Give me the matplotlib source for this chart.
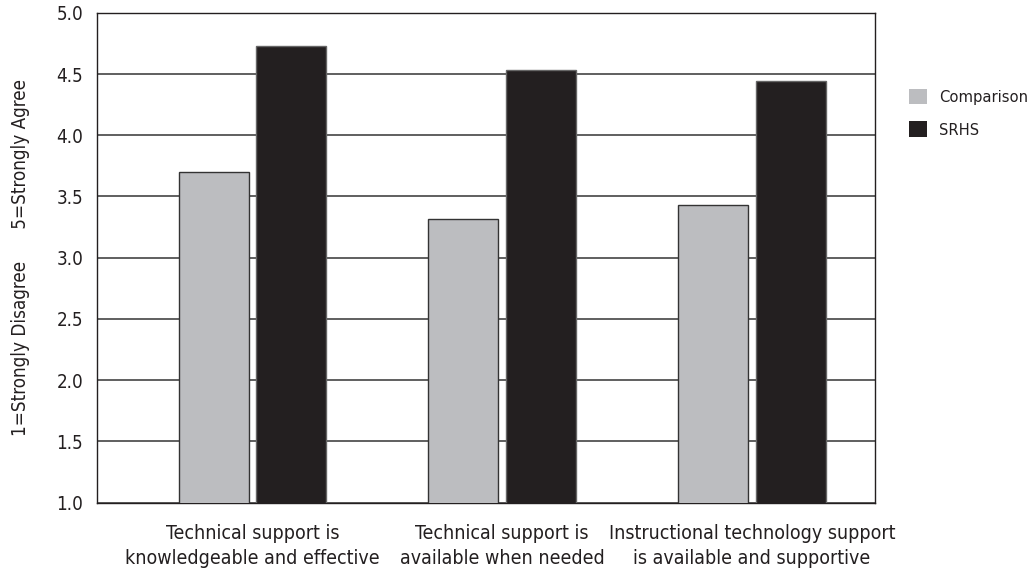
import numpy as np
import matplotlib
matplotlib.use("Agg")
import matplotlib.pyplot as plt

# DATA
categories = [
    "Technical support is\nknowledgeable and effective",
    "Technical support is\navailable when needed",
    "Instructional technology support\nis available and supportive",
]
series_names = ["Comparison", "SRHS"]
comparison = [3.70, 3.32, 3.43]
srhs = [4.73, 4.53, 4.44]
y_ticks = [1.0, 1.5, 2.0, 2.5, 3.0, 3.5, 4.0, 4.5, 5.0]

# condensed face, closest to the original's narrow type
plt.rcParams["font.family"] = ["DejaVu Sans"]
plt.rcParams["font.stretch"] = "condensed"

fig = plt.figure(figsize=(10.32, 5.73), dpi=100)
ax = fig.add_axes([0.094, 0.1227, 0.754, 0.855])

x = np.arange(len(categories))
width = 0.28
offset = 0.155

ax.bar(x - offset, comparison, width, color="#bcbdc0",
       edgecolor="#333333", linewidth=1, label=series_names[0], zorder=3)
ax.bar(x + offset, srhs, width, color="#231f20",
       edgecolor="#666666", linewidth=1, label=series_names[1], zorder=3)

# GRID
ax.set_ylim(1.0, 5.0)
ax.set_xlim(-0.622, 2.493)
ax.set_yticks(y_ticks)
ax.set_yticklabels([f"{v:.1f}" for v in y_ticks])
ax.yaxis.grid(True, color="#444444", linewidth=1.2, zorder=0)
ax.set_axisbelow(True)

ax.set_xticks(x)
ax.set_xticklabels(categories, fontsize=14, color="#231f20", linespacing=1.4)
ax.tick_params(axis="both", length=0, colors="#231f20")
ax.tick_params(axis="y", labelsize=13.5, pad=10)
ax.tick_params(axis="x", pad=15)

for s in ax.spines.values():
    s.set_color("#231f20")
    s.set_linewidth(1)

ax.set_ylabel("1=Strongly Disagree      5=Strongly Agree",
              fontsize=13.5, color="#231f20", labelpad=19)

# LEGEND
leg = ax.legend(loc="upper left", bbox_to_anchor=(1.0437, 0.845),
                frameon=False, fontsize=11.8, borderpad=0, borderaxespad=0,
                handlelength=1.08, handleheight=1.08,
                handletextpad=0.75, labelspacing=1.0)
for h in leg.legend_handles:
    h.set_edgecolor("none")
for t in leg.get_texts():
    t.set_color("#231f20")

plt.savefig("out.png", dpi=100)
